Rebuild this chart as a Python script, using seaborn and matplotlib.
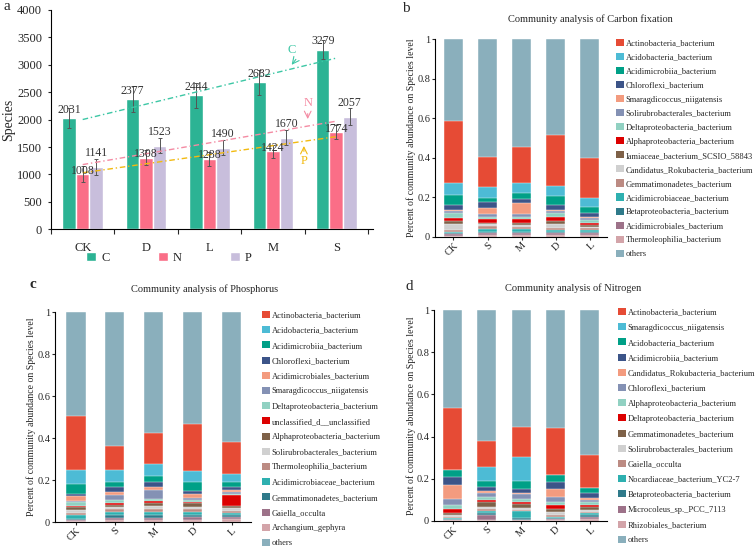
import numpy as np
import pandas as pd
import matplotlib
matplotlib.use("Agg")
import matplotlib.pyplot as plt
from matplotlib.patches import Patch
import seaborn as sns

# ---------------- data ----------------
# a: number of species carrying C / N / P cycling genes
groups = ["CK", "D", "L", "M", "S"]
species_C = [2031, 2377, 2444, 2682, 3279]
species_N = [1008, 1308, 1288, 1424, 1774]
species_P = [1141, 1523, 1490, 1670, 2057]
sd_C = [180, 240, 230, 230, 180]
sd_N = [150, 130, 130, 120, 120]
sd_P = [150, 140, 140, 140, 150]

# b-d: relative abundance, columns in sample order; the remainder is "others"
samples = ["CK", "S", "M", "D", "L"]

carbon_taxa = ["Actinobacteria_bacterium", "Acidobacteria_bacterium", "Acidimicrobiia_bacterium",
               "Chloroflexi_bacterium", "Smaragdicoccus_niigatensis", "Solirubrobacterales_bacterium",
               "Deltaproteobacteria_bacterium", "Alphaproteobacteria_bacterium",
               "Iamiaceae_bacterium_SCSIO_58843", "Candidatus_Rokubacteria_bacterium",
               "Gemmatimonadetes_bacterium", "Acidimicrobiaceae_bacterium", "Betaproteobacteria_bacterium",
               "Acidimicrobiales_bacterium", "Thermoleophilia_bacterium"]
carbon_abund = [
    [0.316, 0.151, 0.180, 0.260, 0.205],
    [0.059, 0.058, 0.051, 0.050, 0.043],
    [0.050, 0.021, 0.032, 0.045, 0.034],
    [0.026, 0.030, 0.022, 0.025, 0.017],
    [0.004, 0.029, 0.054, 0.004, 0.004],
    [0.013, 0.014, 0.014, 0.013, 0.013],
    [0.022, 0.013, 0.013, 0.020, 0.013],
    [0.016, 0.017, 0.020, 0.018, 0.012],
    [0.017, 0.008, 0.009, 0.016, 0.008],
    [0.029, 0.008, 0.008, 0.019, 0.008],
    [0.008, 0.017, 0.013, 0.010, 0.010],
    [0.008, 0.013, 0.013, 0.010, 0.008],
    [0.006, 0.007, 0.007, 0.008, 0.007],
    [0.006, 0.009, 0.009, 0.009, 0.010],
    [0.006, 0.009, 0.009, 0.008, 0.008],
]

phos_taxa = ["Actinobacteria_bacterium", "Acidobacteria_bacterium", "Acidimicrobiia_bacterium",
             "Chloroflexi_bacterium", "Acidimicrobiales_bacterium", "Smaragdicoccus_niigatensis",
             "Deltaproteobacteria_bacterium", "unclassified_d__unclassified",
             "Alphaproteobacteria_bacterium", "Solirubrobacterales_bacterium", "Thermoleophilia_bacterium",
             "Acidimicrobiaceae_bacterium", "Gemmatimonadetes_bacterium", "Gaiella_occulta",
             "Archangium_gephyra"]
phos_abund = [
    [0.259, 0.114, 0.148, 0.225, 0.151],
    [0.066, 0.060, 0.059, 0.052, 0.040],
    [0.048, 0.022, 0.028, 0.041, 0.023],
    [0.011, 0.026, 0.022, 0.016, 0.013],
    [0.024, 0.011, 0.013, 0.021, 0.013],
    [0.004, 0.024, 0.044, 0.006, 0.007],
    [0.020, 0.016, 0.008, 0.013, 0.007],
    [0.004, 0.007, 0.012, 0.004, 0.052],
    [0.015, 0.012, 0.015, 0.017, 0.008],
    [0.013, 0.009, 0.013, 0.012, 0.013],
    [0.011, 0.016, 0.016, 0.014, 0.010],
    [0.019, 0.011, 0.011, 0.012, 0.010],
    [0.005, 0.016, 0.016, 0.012, 0.010],
    [0.004, 0.011, 0.011, 0.013, 0.012],
    [0.004, 0.008, 0.008, 0.010, 0.012],
]

nitro_taxa = ["Actinobacteria_bacterium", "Smaragdicoccus_niigatensis", "Acidobacteria_bacterium",
              "Acidimicrobiia_bacterium", "Candidatus_Rokubacteria_bacterium", "Chloroflexi_bacterium",
              "Alphaproteobacteria_bacterium", "Deltaproteobacteria_bacterium", "Gemmatimonadetes_bacterium",
              "Solirubrobacterales_bacterium", "Gaiella_occulta", "Nocardiaceae_bacterium_YC2-7",
              "Betaproteobacteria_bacterium", "Microcoleus_sp._PCC_7113", "Rhizobiales_bacterium"]
nitro_abund = [
    [0.295, 0.122, 0.145, 0.224, 0.155],
    [0.002, 0.066, 0.113, 0.003, 0.002],
    [0.033, 0.029, 0.035, 0.032, 0.024],
    [0.037, 0.019, 0.020, 0.032, 0.022],
    [0.068, 0.009, 0.006, 0.039, 0.010],
    [0.027, 0.019, 0.021, 0.021, 0.010],
    [0.017, 0.013, 0.016, 0.016, 0.015],
    [0.022, 0.011, 0.008, 0.019, 0.010],
    [0.006, 0.024, 0.019, 0.015, 0.010],
    [0.010, 0.007, 0.009, 0.013, 0.010],
    [0.006, 0.012, 0.007, 0.008, 0.008],
    [0.004, 0.009, 0.034, 0.006, 0.008],
    [0.004, 0.011, 0.006, 0.005, 0.008],
    [0.003, 0.020, 0.004, 0.005, 0.012],
    [0.003, 0.007, 0.003, 0.005, 0.008],
]

# ---------------- style ----------------
sns.set_theme(style="ticks")
plt.rcParams["font.family"] = ["Liberation Serif", "DejaVu Serif"]
plt.rcParams["axes.linewidth"] = 0.8

elem_colors = {"C": "#2CB394", "N": "#FA6E87", "P": "#C8BEDC"}
taxa_colors = ["#E64B35", "#4DBBD5", "#00A087", "#3C5488", "#F39B7F", "#8491B4", "#91D1C2",
               "#DC0000", "#7E6148", "#D0D0D0", "#BC8B83", "#2EB0B0", "#2F7A8A", "#9D7289",
               "#D3A4A9", "#8AAFBC"]

W, H = 755, 546
fig = plt.figure(figsize=(W / 100, H / 100), dpi=100)


def px_axes(left, top, right, bottom):
    return fig.add_axes([left / W, 1 - bottom / H, (right - left) / W, (bottom - top) / H])


# ---------------- a ----------------
ax_a = px_axes(51, 10, 373, 229.3)
df_a = pd.DataFrame({
    "group": groups * 3,
    "element": ["C"] * 5 + ["N"] * 5 + ["P"] * 5,
    "species": species_C + species_N + species_P,
})
sns.barplot(data=df_a, x="group", y="species", hue="element", hue_order=["C", "N", "P"],
            palette=elem_colors, width=0.64, saturation=1, errorbar=None, legend=False, ax=ax_a)

label_off = {"C": 150, "N": 60, "P": 250}
for cont, el, vals, sds in zip(ax_a.containers, ["C", "N", "P"],
                               [species_C, species_N, species_P], [sd_C, sd_N, sd_P]):
    xs = [b.get_x() + b.get_width() / 2 for b in cont]
    ax_a.errorbar(xs, vals, yerr=sds, fmt="none", ecolor="#555555", elinewidth=0.7,
                  capsize=1.5, capthick=0.7)
    for x, v in zip(xs, vals):
        ax_a.text(x, v + label_off[el], str(v), ha="center", va="center", fontsize=8.5, color="#333333")

# linear trend guides (drawn as in the source figure: pink guide follows the P fit, gold the N fit)
xi = np.arange(len(groups))
trend = [(species_C, "#3DC7A5"), (species_P, "#F48BA3"), (species_N, "#F2BA10")]
for vals, col in trend:
    k, b = np.polyfit(xi, vals, 1)
    ax_a.plot([0, 4], [b, b + 4 * k], color=col, lw=1.0, ls=(0, (4, 2, 1, 2)))

ax_a.annotate("", xy=(3.27, 2960), xytext=(3.39, 3140),
              arrowprops=dict(arrowstyle="->", color="#3DC7A5", lw=0.8))
ax_a.text(3.30, 3270, "C", color="#3DC7A5", fontsize=9, ha="center", va="center")
ax_a.annotate("", xy=(3.55, 1960), xytext=(3.55, 2160),
              arrowprops=dict(arrowstyle="->", color="#F48BA3", lw=0.8))
ax_a.text(3.55, 2300, "N", color="#F48BA3", fontsize=9, ha="center", va="center")
ax_a.annotate("", xy=(3.49, 1570), xytext=(3.49, 1370),
              arrowprops=dict(arrowstyle="->", color="#F2BA10", lw=0.8))
ax_a.text(3.49, 1245, "P", color="#F2BA10", fontsize=9, ha="center", va="center")

ax_a.set_xlim(-0.49, 4.58)
ax_a.set_ylim(0, 4000)
ax_a.set_yticks(range(0, 4001, 500))
ax_a.set_xlabel("")
ax_a.set_ylabel("Species", fontsize=10)
ax_a.yaxis.set_label_coords(-0.112, 0.5)
ax_a.tick_params(axis="y", labelsize=9, length=2.5, width=0.8, pad=4)
ax_a.tick_params(axis="x", which="major", labelsize=9, length=0, pad=9)
ax_a.set_xticks(np.arange(-0.5, 5, 1), minor=True)
ax_a.tick_params(axis="x", which="minor", length=3.5, width=0.8, direction="out")
sns.despine(ax=ax_a)
for s in ["left", "bottom"]:
    ax_a.spines[s].set_color("black")

fig.legend(handles=[Patch(facecolor=elem_colors[e]) for e in "CNP"], labels=list("CNP"),
           loc="center left", bbox_to_anchor=(86 / W, 1 - 258 / H), ncol=3, frameon=False,
           fontsize=9, handlelength=0.8, handleheight=0.7, handletextpad=0.4,
           columnspacing=3.85, borderpad=0, borderaxespad=0)
fig.text(3 / W, 1 - 7 / H, "a", fontsize=11, ha="left", va="center")


# ---------------- b-d ----------------
def stacked(ax, taxa, abund, bar_w):
    vals = np.array(abund)
    names = taxa + ["others"]
    full = np.vstack([vals, 1 - vals.sum(axis=0)])
    order = list(range(len(taxa) - 1, -1, -1)) + [len(taxa)]  # bottom -> top
    tops = np.cumsum(full[order], axis=0)
    df = pd.DataFrame({
        "sample": samples * len(order),
        "taxon": [names[i] for i in order for _ in samples],
        "top": tops.ravel(),
    })
    hue_order = [names[i] for i in order[::-1]]  # tallest drawn first
    sns.barplot(data=df, x="sample", y="top", hue="taxon", hue_order=hue_order, order=samples,
                palette=dict(zip(names, taxa_colors)), dodge=False, saturation=1, width=bar_w,
                edgecolor="white", linewidth=0.3, errorbar=None, legend=False, ax=ax)
    ax.set_xlim(-0.54, 4.5)
    ax.set_ylim(0, 1)
    ax.set_yticks([0, 0.2, 0.4, 0.6, 0.8, 1])
    ax.set_yticklabels(["0", "0.2", "0.4", "0.6", "0.8", "1"])
    ax.set_xlabel("")
    ax.set_ylabel("Percent of community abundance on Species level", fontsize=7)
    ax.tick_params(axis="y", labelsize=7.5, length=2, width=0.8, pad=1.5)
    ax.tick_params(axis="x", labelsize=7.5, length=2, width=0.8, pad=1)
    plt.setp(ax.get_xticklabels(), rotation=45, ha="right", rotation_mode="anchor")
    sns.despine(ax=ax)
    for s in ["left", "bottom"]:
        ax.spines[s].set_color("black")
    return [Patch(facecolor=c, edgecolor="none") for c in taxa_colors], names


panels = [
    (carbon_taxa, carbon_abund, (435, 39.3, 607, 236.7), 0.56, "Community analysis of Carbon fixation",
     (590, 19), "b", (402, 8), (616, 39), 0.65, -0.11),
    (phos_taxa, phos_abund, (55, 312, 251, 522), 0.49, "Community analysis of Phosphorus",
     (205, 289), "c", (29, 285), (262, 311), 0.785, -0.097),
    (nitro_taxa, nitro_abund, (434, 310, 607, 521), 0.55, "Community analysis of Nitrogen",
     (573, 288), "d", (406, 287), (618, 308), 0.785, -0.104),
]
for taxa, abund, box, bw, title, tpos, letter, lpos, legpos, lsp, ylx in panels:
    ax = px_axes(*box)
    handles, names = stacked(ax, taxa, abund, bw)
    ax.yaxis.set_label_coords(ylx, 0.5)
    fig.text(tpos[0] / W, 1 - tpos[1] / H, title, fontsize=7.5, ha="center", va="center")
    fig.text(lpos[0] / W, 1 - lpos[1] / H, letter, fontsize=11, ha="left", va="center",
             fontweight="bold" if letter == "c" else "normal")
    fig.legend(handles=handles, labels=names, loc="upper left",
               bbox_to_anchor=(legpos[0] / W, 1 - legpos[1] / H), frameon=False, fontsize=6.15,
               handlelength=0.9, handleheight=0.9, handletextpad=0.25, labelspacing=lsp,
               borderpad=0, borderaxespad=0)

fig.savefig("out.png", dpi=100)
